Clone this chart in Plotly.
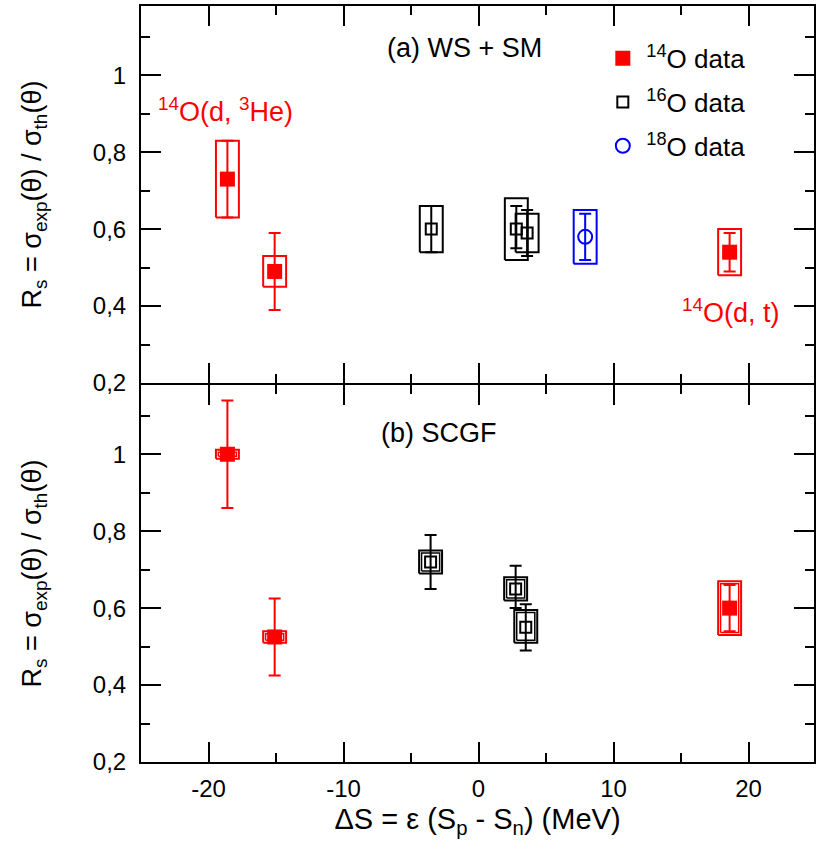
import plotly.graph_objects as go
from plotly.subplots import make_subplots

# panel (a) WS + SM
o14_a_x = [-18.6, -15.1, 18.6]
o14_a_y = [0.73, 0.49, 0.54]
o14_a_err_hi = [0.83, 0.59, 0.59]
o14_a_err_lo = [0.63, 0.39, 0.49]
o14_a_box_hi = [0.83, 0.53, 0.60]
o14_a_box_lo = [0.63, 0.45, 0.48]

o16_a_x = [-3.5, 2.8, 3.6]
o16_a_y = [0.60, 0.60, 0.59]
o16_a_err_hi = [0.66, 0.66, 0.65]
o16_a_err_lo = [0.54, 0.55, 0.53]
o16_a_box_hi = [0.66, 0.68, 0.64]
o16_a_box_lo = [0.54, 0.52, 0.54]

o18_a_x = [7.9]
o18_a_y = [0.58]
o18_a_err_hi = [0.64]
o18_a_err_lo = [0.52]
o18_a_box_hi = [0.65]
o18_a_box_lo = [0.51]

# panel (b) SCGF
o14_b_x = [-18.6, -15.1, 18.6]
o14_b_y = [1.0, 0.525, 0.60]
o14_b_err_hi = [1.14, 0.625, 0.66]
o14_b_err_lo = [0.86, 0.425, 0.54]
o14_b_box_hi = [1.012, 0.54, 0.67]
o14_b_box_lo = [0.988, 0.51, 0.53]

o16_b_x = [-3.55, 2.75, 3.5]
o16_b_y = [0.72, 0.65, 0.55]
o16_b_err_hi = [0.79, 0.71, 0.61]
o16_b_err_lo = [0.65, 0.60, 0.49]
o16_b_box_hi = [0.75, 0.68, 0.595]
o16_b_box_lo = [0.69, 0.62, 0.51]

y_ticks = [0.2, 0.4, 0.6, 0.8, 1.0]
y_ticklabels = ['0,2', '0,4', '0,6', '0,8', '1']
x_ticks = [-20, -10, 0, 10, 20]
x_ticklabels = ['-20', '-10', '0', '10', '20']

FONT = 'Liberation Sans, Arial, sans-serif'
RED = '#ff0000'
BLUE = '#0000ff'
HALF_W = 0.85   # half width of the systematic boxes (MeV)
INSET_X = 0.18  # second (inner) box line in panel b
INSET_Y = 0.0065


def box_path(xs, lo, hi, dx=0.0, dy=0.0):
    bx, by = [], []
    for x, l, h in zip(xs, lo, hi):
        w = HALF_W - dx
        bx += [x - w, x + w, x + w, x - w, x - w, None]
        by += [l + dy, l + dy, h - dy, h - dy, l + dy, None]
    return bx, by


def add_set(fig, row, xs, ys, hi, lo, bhi, blo, color, symbol, size, lw, double=False):
    bx, by = box_path(xs, blo, bhi)
    fig.add_trace(go.Scatter(x=bx, y=by, mode='lines', line=dict(color=color, width=2),
                             showlegend=False, hoverinfo='skip'), row=row, col=1)
    if double:
        bx, by = box_path(xs, blo, bhi, INSET_X, INSET_Y)
        fig.add_trace(go.Scatter(x=bx, y=by, mode='lines', line=dict(color=color, width=1.5),
                                 showlegend=False, hoverinfo='skip'), row=row, col=1)
    fig.add_trace(go.Scatter(
        x=xs, y=ys, mode='markers', showlegend=False,
        marker=dict(symbol=symbol, size=size, color=color, line=dict(color=color, width=lw)),
        error_y=dict(type='data', symmetric=False,
                     array=[h - y for h, y in zip(hi, ys)],
                     arrayminus=[y - l for l, y in zip(lo, ys)],
                     color=color, thickness=2, width=6)), row=row, col=1)


fig = make_subplots(rows=2, cols=1, shared_xaxes=True, vertical_spacing=2 / 756)

add_set(fig, 1, o14_a_x, o14_a_y, o14_a_err_hi, o14_a_err_lo, o14_a_box_hi, o14_a_box_lo, RED, 'square', 15, 0)
add_set(fig, 1, o16_a_x, o16_a_y, o16_a_err_hi, o16_a_err_lo, o16_a_box_hi, o16_a_box_lo, 'black', 'square-open', 11, 2)
add_set(fig, 1, o18_a_x, o18_a_y, o18_a_err_hi, o18_a_err_lo, o18_a_box_hi, o18_a_box_lo, BLUE, 'circle-open', 14, 2)
add_set(fig, 2, o14_b_x, o14_b_y, o14_b_err_hi, o14_b_err_lo, o14_b_box_hi, o14_b_box_lo, RED, 'square', 15, 0, True)
add_set(fig, 2, o16_b_x, o16_b_y, o16_b_err_hi, o16_b_err_lo, o16_b_box_hi, o16_b_box_lo, 'black', 'square-open', 11, 2, True)

# legend entries
legend_items = [('<sup>14</sup>O data', RED, 'square', 15, 0),
                ('<sup>16</sup>O data', 'black', 'square-open', 11, 2),
                ('<sup>18</sup>O data', BLUE, 'circle-open', 14, 2)]
for i, (name, color, symbol, size, lw) in enumerate(legend_items):
    fig.add_trace(go.Scatter(x=[None], y=[None], mode='markers', name=name, legendgroup=str(i),
                             marker=dict(symbol=symbol, size=size, color=color,
                                         line=dict(color=color, width=lw))), row=1, col=1)

axis_style = dict(showline=True, linewidth=2, linecolor='black', mirror='ticks',
                  ticks='inside', ticklen=20, tickwidth=2, tickcolor='black',
                  showgrid=False, zeroline=False,
                  tickfont=dict(family=FONT, size=24, color='black'))

for r in (1, 2):
    fig.update_xaxes(range=[-25, 24.85], tickvals=x_ticks, ticktext=x_ticklabels,
                     minor=dict(dtick=5, tick0=0, ticks='inside', ticklen=9, tickwidth=2,
                                tickcolor='black'),
                     ticklabelstandoff=4,
                     showticklabels=(r == 2), row=r, col=1, **axis_style)
    fig.update_yaxes(range=[0.2, 1.18], tickvals=y_ticks, ticktext=y_ticklabels,
                     minor=dict(dtick=0.1, tick0=0.1, ticks='inside', ticklen=9, tickwidth=2,
                                tickcolor='black'),
                     ticklabelstandoff=8,
                     title=dict(text='R<sub>s</sub> = σ<sub>exp</sub>(θ) / σ<sub>th</sub>(θ)',
                                font=dict(family=FONT, size=27, color='black'), standoff=43),
                     row=r, col=1, **axis_style)

fig.update_xaxes(title=dict(text='ΔS = ε (S<sub>p</sub> - S<sub>n</sub>) (MeV)',
                            font=dict(family=FONT, size=29, color='black'), standoff=8),
                 row=2, col=1)

annots = [
    dict(text='(a) WS + SM', x=0.48, y=0.944, color='black'),
    dict(text='<sup>14</sup>O(d, <sup>3</sup>He)', x=0.126, y=0.862, color=RED),
    dict(text='<sup>14</sup>O(d, t)', x=0.877, y=0.596, color=RED),
    dict(text='(b) SCGF', x=0.443, y=0.435, color='black'),
]
for a in annots:
    fig.add_annotation(text=a['text'], x=a['x'], y=a['y'], xref='paper', yref='paper',
                       showarrow=False, xanchor='center', yanchor='middle',
                       font=dict(family=FONT, size=27, color=a['color']))

fig.update_layout(
    width=816, height=853,
    margin=dict(l=141, r=0, t=6, b=91),
    paper_bgcolor='white', plot_bgcolor='white',
    showlegend=True,
    legend=dict(x=0.681, y=0.962, xanchor='left', yanchor='top', bgcolor='rgba(0,0,0,0)',
                font=dict(family=FONT, size=26, color='black'),
                traceorder='grouped', tracegroupgap=7, itemwidth=37),
)

fig.write_html('out.html', config={'displayModeBar': False},
               post_script="document.body.style.margin='0';")
